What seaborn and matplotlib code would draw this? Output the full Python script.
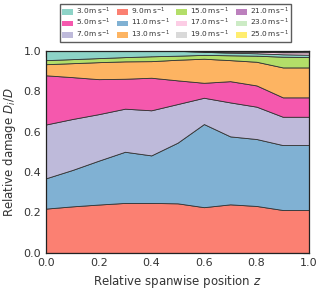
import numpy as np
import pandas as pd
import matplotlib
matplotlib.use("Agg")
import matplotlib.pyplot as plt
import seaborn as sns
from matplotlib.patches import Patch

# spanwise positions
z = [0.0, 0.1, 0.2, 0.3, 0.4, 0.5, 0.6, 0.7, 0.8, 0.9, 1.0]

# damage fraction per wind speed
d_03 = [0.047, 0.042, 0.037, 0.032, 0.028, 0.024, 0.015, 0.013, 0.012, 0.012, 0.012]
d_05 = [0.243, 0.207, 0.173, 0.148, 0.161, 0.117, 0.074, 0.105, 0.105, 0.096, 0.096]
d_07 = [0.266, 0.252, 0.230, 0.213, 0.223, 0.191, 0.130, 0.168, 0.160, 0.140, 0.140]
d_09 = [0.219, 0.230, 0.239, 0.247, 0.247, 0.245, 0.226, 0.240, 0.232, 0.212, 0.212]
d_11 = [0.150, 0.180, 0.217, 0.253, 0.235, 0.300, 0.411, 0.336, 0.331, 0.321, 0.321]
d_13 = [0.055, 0.069, 0.084, 0.086, 0.082, 0.102, 0.119, 0.104, 0.117, 0.148, 0.148]
d_15 = [0.020, 0.020, 0.020, 0.021, 0.024, 0.020, 0.019, 0.024, 0.030, 0.053, 0.051]
d_17 = [0.000, 0.000, 0.000, 0.000, 0.000, 0.001, 0.003, 0.005, 0.007, 0.010, 0.012]
d_19 = [0.000, 0.000, 0.000, 0.000, 0.000, 0.000, 0.002, 0.003, 0.004, 0.004, 0.005]
d_21 = [0.000, 0.000, 0.000, 0.000, 0.000, 0.000, 0.001, 0.002, 0.002, 0.002, 0.002]
d_23 = [0.000, 0.000, 0.000, 0.000, 0.000, 0.000, 0.000, 0.000, 0.000, 0.001, 0.001]
d_25 = [0.000, 0.000, 0.000, 0.000, 0.000, 0.000, 0.000, 0.000, 0.000, 0.000, 0.000]

speeds = [3.0, 5.0, 7.0, 9.0, 11.0, 13.0, 15.0, 17.0, 19.0, 21.0, 23.0, 25.0]
colors = ["#8dd3c7", "#f558ad", "#bebada", "#fb8072", "#80b1d3", "#fdb462",
          "#b3de69", "#fccde5", "#d9d9d9", "#bc80bd", "#ccebc5", "#ffed6f"]

df = pd.DataFrame({3.0: d_03, 5.0: d_05, 7.0: d_07, 9.0: d_09, 11.0: d_11,
                   13.0: d_13, 15.0: d_15, 17.0: d_17, 19.0: d_19,
                   21.0: d_21, 23.0: d_23, 25.0: d_25}, index=z)

# order the layers are stacked in, bottom to top
stack_order = [9.0, 11.0, 7.0, 5.0, 13.0, 15.0, 3.0, 17.0, 19.0, 21.0, 23.0, 25.0]
cmap = dict(zip(speeds, colors))

sns.set_style("white")
plt.rcParams["font.family"] = ["DejaVu Sans"]
plt.rcParams["text.color"] = "#333333"
plt.rcParams["axes.labelcolor"] = "#333333"
plt.rcParams["xtick.color"] = "#333333"
plt.rcParams["ytick.color"] = "#333333"

fig = plt.figure(figsize=(3.2, 2.91), dpi=100)
ax = fig.add_axes([0.144, 0.131, 0.822, 0.695])

ax.stackplot(df.index, [df[s] for s in stack_order],
             colors=[cmap[s] for s in stack_order],
             edgecolor="#333333", linewidth=0.6)

ax.set_xlim(0, 1)
ax.set_ylim(0, 1)
ax.set_xticks(np.arange(0, 1.01, 0.2))
ax.set_yticks(np.arange(0, 1.01, 0.2))
ax.tick_params(direction="in", top=True, right=True, length=4, width=0.8,
               labelsize=8, color="#222222")
for sp in ax.spines.values():
    sp.set_color("#222222")
    sp.set_linewidth(0.9)
ax.set_xlabel("Relative spanwise position $z$", fontsize=8.5)
ax.set_ylabel("Relative damage $D_i/D$", fontsize=8.5)

handles = [Patch(facecolor=cmap[s], edgecolor="none") for s in speeds]
labels = [f"{s:.1f}" + r"$\,\mathrm{m\,s^{-1}}$" for s in speeds]
fig.legend(handles, labels, ncol=4, loc="upper center",
           bbox_to_anchor=(0.548, 1.0), fontsize=5.3, frameon=True,
           fancybox=False, edgecolor="#333333", handlelength=1.5,
           handleheight=0.8, columnspacing=0.9, labelspacing=0.05,
           handletextpad=0.4, borderpad=0.25)

fig.savefig("out.png", dpi=100)
